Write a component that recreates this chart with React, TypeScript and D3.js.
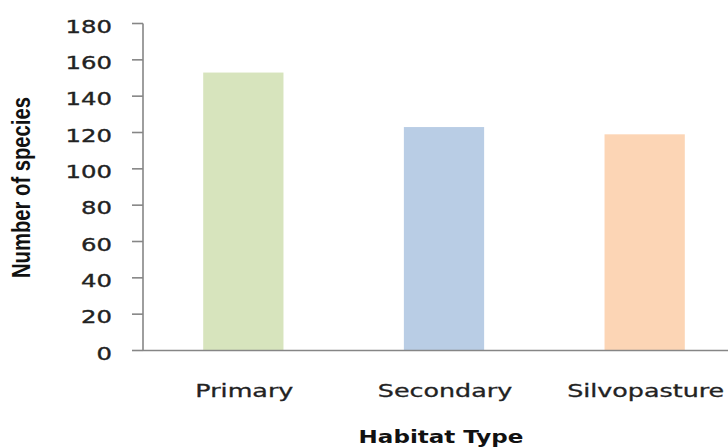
import React from "react";
import * as d3 from "d3";

const categories = ["Primary", "Secondary", "Silvopasture"];
const speciesCounts = [153, 123, 119];
const barColors = ["#d7e4bd", "#b9cde5", "#fcd5b5"];
const yTicks = [0, 20, 40, 60, 80, 100, 120, 140, 160, 180];

const W = 728;
const H = 448;
const left = 143;
const top = 23.5;
const bottom = 350.5;
const stretch = 1.4;

export default function App() {
  const x = d3
    .scaleBand<string>()
    .domain(categories)
    .range([left, left + 602])
    .paddingInner(0.6)
    .paddingOuter(0.3);
  const y = d3.scaleLinear().domain([0, 180]).range([bottom, top]);

  return (
    <svg
      width={W}
      height={H}
      style={{ position: "absolute", left: 0, top: 0, background: "#fff" }}
    >
      {/* bars */}
      {categories.map((c, i) => (
        <rect
          key={c}
          x={x(c)}
          y={y(speciesCounts[i])}
          width={x.bandwidth()}
          height={y(0) - y(speciesCounts[i])}
          fill={barColors[i]}
        />
      ))}

      {/* y axis */}
      <line x1={left} x2={left} y1={y(180)} y2={y(0)} stroke="#868686" strokeWidth={1.6} />
      {yTicks.map((t) => (
        <g key={t}>
          <line x1={left - 11} x2={left} y1={y(t)} y2={y(t)} stroke="#868686" strokeWidth={1.6} />
          <g transform={`translate(112,${y(t) + 9}) scale(${stretch},1)`}>
            <text
              textAnchor="end"
              fontFamily="DejaVu Sans, Verdana, sans-serif"
              fontSize={17.4}
              fill="#222"
              stroke="#222"
              strokeWidth={0.35}
            >
              {t}
            </text>
          </g>
        </g>
      ))}

      {/* x axis */}
      <line x1={left} x2={W} y1={y(0)} y2={y(0)} stroke="#868686" strokeWidth={1.6} />
      {categories.map((c) => (
        <g key={c} transform={`translate(${(x(c) as number) + x.bandwidth() / 2 + 1},397) scale(1.45,1)`}>
          <text
            textAnchor="middle"
            fontFamily="DejaVu Sans, Verdana, sans-serif"
            fontSize={17.5}
            fill="#222"
            stroke="#222"
            strokeWidth={0.3}
          >
            {c}
          </text>
        </g>
      ))}

      {/* axis titles */}
      <g transform="translate(441,443) scale(1.28,1)">
        <text
          textAnchor="middle"
          fontFamily="DejaVu Sans, Verdana, sans-serif"
          fontWeight="bold"
          fontSize={18}
          fill="#111"
        >
          Habitat Type
        </text>
      </g>
      <g transform={`translate(30,187.5) scale(${stretch},1) rotate(-90)`}>
        <text
          textAnchor="middle"
          fontFamily="Liberation Sans, Arial, sans-serif"
          fontWeight="bold"
          fontSize={19}
          textLength={181}
          lengthAdjust="spacingAndGlyphs"
          fill="#111"
        >
          Number of species
        </text>
      </g>
    </svg>
  );
}
